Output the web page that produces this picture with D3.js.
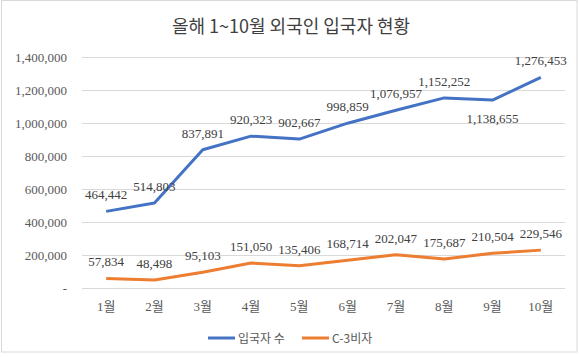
<!DOCTYPE html>
<html><head><meta charset="utf-8">
<script src="https://cdn.jsdelivr.net/npm/d3@7"></script>
<style>body{margin:0;background:#fff;}svg{display:block;}</style>
</head><body>
<svg id="c" width="580" height="357"></svg>
<script>
const categories = ["1월","2월","3월","4월","5월","6월","7월","8월","9월","10월"];
const arrivals = [464442,514803,837891,920323,902667,998859,1076957,1152252,1138655,1276453];
const c3visa = [57834,48498,95103,151050,135406,168714,202047,175687,210504,229546];
const seriesNames = ["입국자 수","C-3비자"];
const yTicks = [0,200000,400000,600000,800000,1000000,1200000,1400000];
const title = "올해 1~10월 외국인 입국자 현황";

const svg = d3.select("#c");
const serif = "'Liberation Serif','Noto Sans CJK KR',serif";
const sans = "'Noto Sans CJK KR','Noto Sans',sans-serif";
const colors = ["#4472C4","#ED7D31"];
const txt = "#595959";

svg.append("rect").attr("x",1.5).attr("y",0.5).attr("width",575.5).attr("height",351.5)
  .attr("fill","#fff").attr("stroke","#d9d9d9");

svg.append("text").attr("x",291).attr("y",33).attr("text-anchor","middle")
  .attr("font-family",sans).attr("font-size",18).attr("fill","#404040").text(title);

const x = d3.scaleBand().domain(categories).range([82,565]);
const y = d3.scaleLinear().domain([0,1400000]).range([288,57]);

const yAxis = d3.axisLeft(y).tickValues(yTicks).tickSize(-(565-82)).tickPadding(15)
  .tickFormat(d => d===0 ? "-" : d3.format(",")(d));
const gy = svg.append("g").attr("transform","translate(82,0)").call(yAxis);
gy.select(".domain").remove();
gy.selectAll(".tick line").attr("stroke","#d9d9d9");
gy.selectAll(".tick text").attr("font-family",serif).attr("font-size",13).attr("fill",txt);

const xAxis = d3.axisBottom(x).tickSize(0).tickPadding(14);
const gx = svg.append("g").attr("transform","translate(0,288)").call(xAxis);
gx.select(".domain").remove();
gx.selectAll(".tick text").attr("font-family",serif).attr("font-size",13).attr("fill",txt);

const cx = d => x(d) + x.bandwidth()/2;
const line = d3.line().x(d => cx(d.c)).y(d => y(d.v));
[arrivals, c3visa].forEach((arr,i) => {
  const pts = categories.map((c,j) => ({c, v: arr[j]}));
  svg.append("path").datum(pts).attr("d",line).attr("fill","none")
    .attr("stroke",colors[i]).attr("stroke-width",3).attr("stroke-linejoin","round");
  svg.selectAll(null).data(pts).enter().append("text")
    .attr("x",d => cx(d.c))
    .attr("y",d => (i===0 && d.c==="9월") ? y(d.v)+23 : y(d.v)-12)
    .attr("text-anchor","middle").attr("font-family",serif).attr("font-size",13)
    .attr("fill","#404040").text(d => d3.format(",")(d.v));
});

const legend = [{x:208, n:seriesNames[0], c:colors[0]},{x:302, n:seriesNames[1], c:colors[1]}];
legend.forEach(l => {
  svg.append("line").attr("x1",l.x).attr("x2",l.x+27).attr("y1",338).attr("y2",338)
    .attr("stroke",l.c).attr("stroke-width",3);
  svg.append("text").attr("x",l.x+30).attr("y",342.5).attr("font-family",sans)
    .attr("font-size",12).attr("fill",txt).text(l.n);
});
</script>
</body></html>
